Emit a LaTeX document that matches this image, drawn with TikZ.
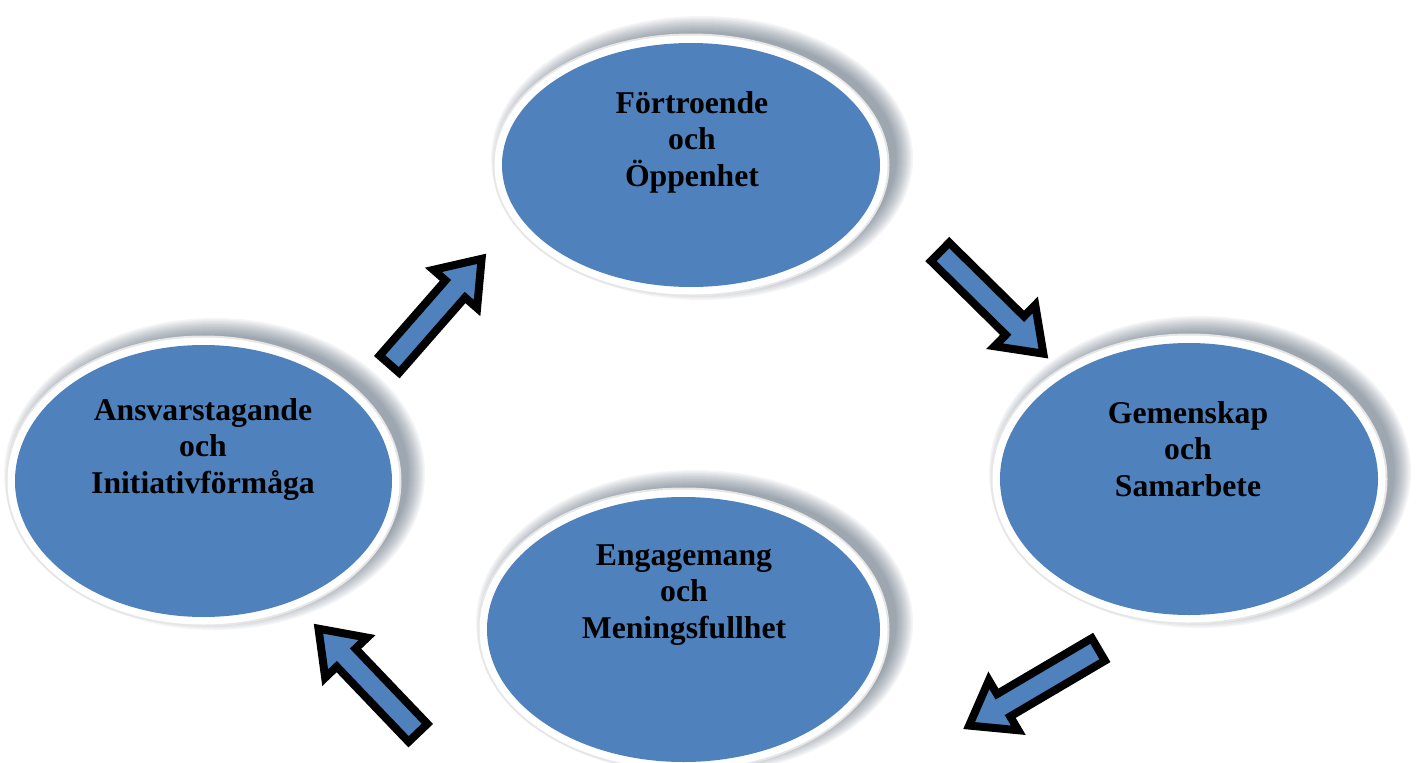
\documentclass[tikz,border=0pt]{standalone}
\usepackage{fontspec}
\setmainfont{Liberation Serif}
\usetikzlibrary{shapes.geometric}
\definecolor{bubbleblue}{HTML}{4F81BD}
\definecolor{ringgray}{HTML}{E6E6E6}
\definecolor{shadowgray}{HTML}{3A4A60}
\newcommand\mybubble[5]{%
  \foreach \k in {0,...,11}{%
    \fill[shadowgray, opacity=0.05] ({#2+11},{#3-7}) ellipse [x radius={#4+22-1.5*\k}, y radius={#5+20-1.5*\k}];
  }
  \fill[ringgray] (#2,#3) ellipse [x radius={#4+9.5}, y radius={#5+9.5}];
  \fill[white] (#2,#3) ellipse [x radius={#4+7.5}, y radius={#5+7.5}];
  \node[bubble, minimum width={2*#4}, minimum height={2*#5}] (#1) at (#2,#3) {};
}
\newcommand\myblockarrow[5]{%
  \coordinate (#1) at (#2,#3);
  \draw[blockarrowstyle, shift={(#1)}, rotate=#4]
    ({-#5/2},-13) -- ({#5/2-40},-13) -- ({#5/2-40},-29) -- ({#5/2},0)
    -- ({#5/2-40},29) -- ({#5/2-40},13) -- ({-#5/2},13) -- cycle;
}
\begin{document}
\begin{tikzpicture}[x=1pt,y=-1pt,
  bubble/.style={ellipse, fill=bubbleblue, inner sep=0pt, draw=none},
  lbl/.style={align=center, inner sep=0pt,
    font=\fontsize{31.7}{36.5}\selectfont\bfseries, text=black},
  blockarrowstyle/.style={fill=bubbleblue, draw=black, line width=8pt, line join=miter, miter limit=10}]
\clip (0,0) rectangle (1417,763);
\fill[white] (0,0) rectangle (1417,763);

\mybubble{top}{691}{165}{189}{122}
\mybubble{left}{203.5}{481}{188.5}{136}
\mybubble{right}{1189}{479}{189}{136}
\mybubble{bottom}{683.5}{629.5}{196.5}{132.5}

\node[lbl] (ttop) at (692,142) {Förtroende\\och\\Öppenhet};
\node[lbl] (tleft) at (203,449) {Ansvarstagande\\och\\Initiativförmåga};
\node[lbl] (tright) at (1188,449) {Gemenskap\\och\\Samarbete};
\node[lbl] (tbottom) at (684,595) {Engagemang\\och\\Meningsfullhet};

\myblockarrow{a1}{435.5}{311.5}{48.8}{140}
\myblockarrow{a2}{991.75}{302.75}{-44.6}{145}
\myblockarrow{a3}{1033.75}{687.5}{210.5}{150}
\myblockarrow{a4}{368.25}{680.75}{133.7}{144}
\end{tikzpicture}
\end{document}
